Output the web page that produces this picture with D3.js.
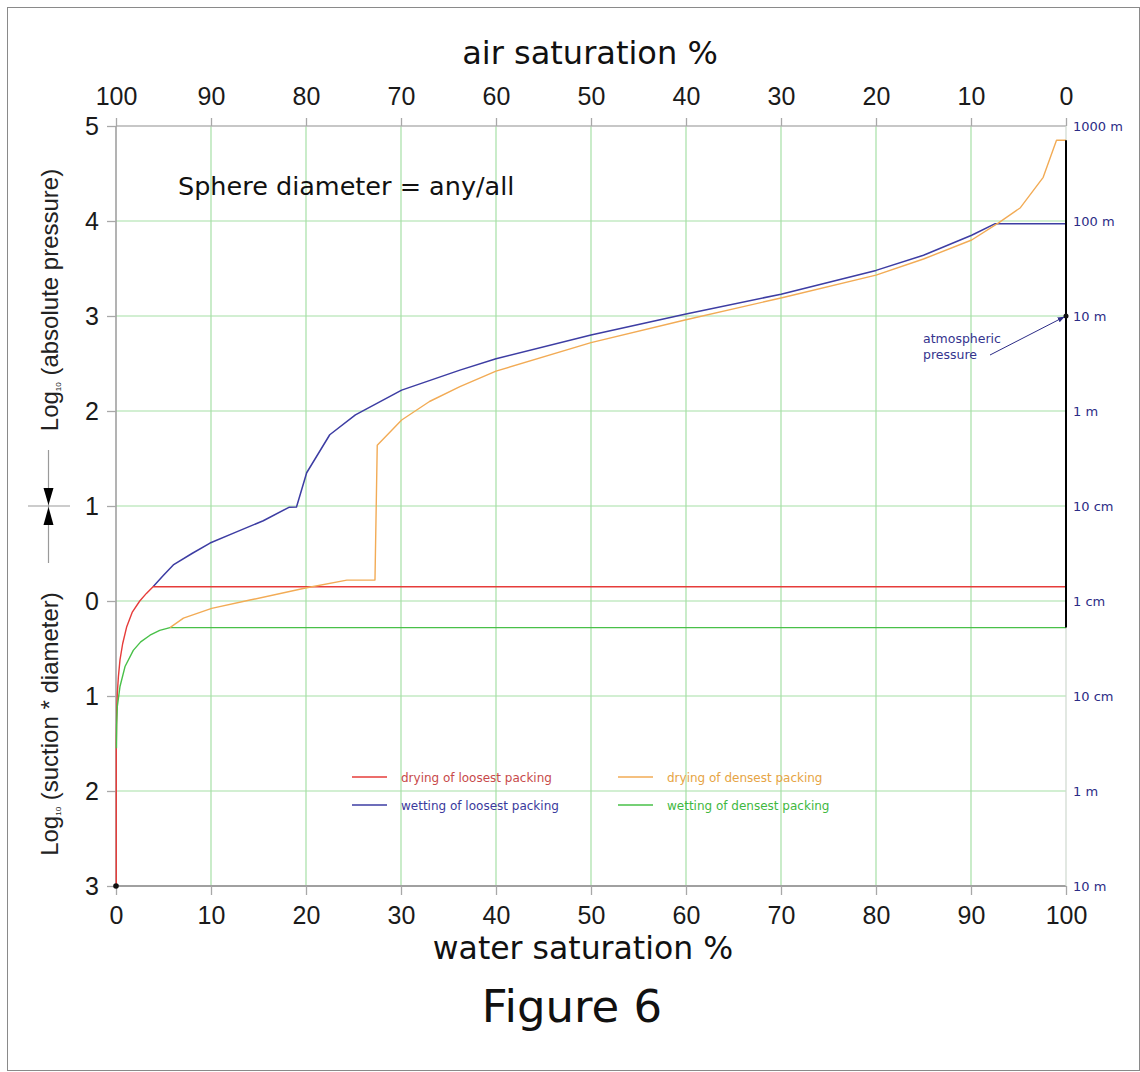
<!DOCTYPE html>
<html><head><meta charset="utf-8">
<script src="https://cdn.jsdelivr.net/npm/d3@7"></script>
<style>body{margin:0;background:#fff}svg{display:block}</style>
</head><body>
<script>
// ---- data ----
const xTicks = [0,10,20,30,40,50,60,70,80,90,100];
const topTickLabels = [100,90,80,70,60,50,40,30,20,10,0];
const yTicks = [5,4,3,2,1,0,-1,-2,-3];
const rightLabels = ["1000 m","100 m","10 m","1 m","10 cm","1 cm","10 cm","1 m","10 m"];

const dryLooseX = [0.03,0.03,0.08,0.14,0.25,0.42,0.7,1.13,1.7,2.5,3.2,3.9,100];
const dryLooseY = [-3,-1.5,-1.15,-0.97,-0.8,-0.62,-0.45,-0.27,-0.12,0,0.08,0.15,0.15];

const wetLooseX = [3.9,5,6.03,8,9.9,12.5,15.5,18.2,19.0,20.07,22.5,25.2,30.07,36.2,40,50,60,70,80,85,90.07,92.5,100];
const wetLooseY = [0.15,0.27,0.38,0.5,0.61,0.72,0.845,0.986,0.99,1.35,1.75,1.96,2.22,2.43,2.55,2.8,3.02,3.23,3.48,3.64,3.85,3.97,3.97];

const dryDenseX = [5.68,7.1,10.07,14.1,20.07,24.3,27.26,27.5,30.07,33,36.2,40,50,60,70,80,85,90.07,92.9,95.2,97.6,99.0,100];
const dryDenseY = [-0.28,-0.18,-0.077,0.01,0.14,0.22,0.22,1.64,1.905,2.1,2.256,2.42,2.72,2.96,3.19,3.43,3.6,3.8,3.98,4.14,4.46,4.85,4.85];

const wetDenseX = [0.05,0.07,0.14,0.42,0.95,1.82,2.6,3.58,4.6,5.68,100];
const wetDenseY = [-1.55,-1.3,-1.11,-0.9,-0.69,-0.52,-0.43,-0.36,-0.31,-0.28,-0.28];

const saturatedX = [100,100];
const saturatedY = [4.85,-0.28];
const atmosphere = {x:100, y:3};
const originPoint = {x:0, y:-3};

const seriesNames = ["drying of loosest packing","wetting of loosest packing","drying of densest packing","wetting of densest packing"];
const seriesColors = ["#e63c3a","#3d3da3","#f2ab55","#48c048"];
const legendTextColors = ["#c84a4a","#3a3a9c","#e6a444","#3fb83f"];

// ---- chart ----
const W=1140,H=1072;
const svg=d3.select("body").append("svg").attr("width",W).attr("height",H);
svg.append("rect").attr("x",7.5).attr("y",7.5).attr("width",1132).attr("height",1063)
  .attr("fill","none").attr("stroke","#8a8a8a").attr("stroke-width",1);

const x=d3.scaleLinear().domain([0,100]).range([116,1066]);
const xTop=d3.scaleLinear().domain([100,0]).range([116,1066]);
const y=d3.scaleLinear().domain([-3,5]).range([886,126]);

const grid="#a6dfa6";
const g=svg.append("g");
// grid
g.selectAll("line.vg").data(xTicks.filter(d=>d>0&&d<100)).join("line")
  .attr("x1",d=>x(d)).attr("x2",d=>x(d)).attr("y1",y(5)).attr("y2",y(-3))
  .attr("stroke",grid).attr("stroke-width",1.2);
g.selectAll("line.hg").data(yTicks.filter(d=>d<5&&d>-3)).join("line")
  .attr("x1",x(0)).attr("x2",x(100)).attr("y1",d=>y(d)).attr("y2",d=>y(d))
  .attr("stroke",grid).attr("stroke-width",1.2);
// frame lines
g.append("line").attr("x1",x(0)).attr("x2",x(100)).attr("y1",y(5)).attr("y2",y(5)).attr("stroke","#b4b4b4").attr("stroke-width",1.5);
g.append("line").attr("x1",x(0)).attr("x2",x(100)).attr("y1",y(-3)).attr("y2",y(-3)).attr("stroke","#a0a0a0").attr("stroke-width",2);
g.append("line").attr("x1",x(0)).attr("x2",x(0)).attr("y1",y(5)).attr("y2",y(-3)).attr("stroke","#9a9a9a").attr("stroke-width",1.5);
g.append("line").attr("x1",x(100)).attr("x2",x(100)).attr("y1",y(5)).attr("y2",y(-3)).attr("stroke","#cfd8cf").attr("stroke-width",1.2);

const tickFont="'Liberation Sans', Arial, sans-serif";
function styleAxis(sel,fs,color,ff){
  sel.select(".domain").remove();
  sel.selectAll(".tick line").attr("stroke","#a8a8a8").attr("stroke-width",1.3);
  sel.selectAll(".tick text").attr("font-size",fs).attr("fill",color).attr("font-family",ff);
}
svg.append("g").attr("transform",`translate(0,${y(-3)})`)
  .call(d3.axisBottom(x).tickValues(xTicks).tickSize(9).tickPadding(11))
  .call(s=>styleAxis(s,25,"#1a1a1a",tickFont));
svg.append("g").attr("transform",`translate(0,${y(5)})`)
  .call(d3.axisTop(xTop).tickValues(topTickLabels).tickSize(8).tickPadding(13))
  .call(s=>styleAxis(s,25,"#1a1a1a",tickFont));
svg.append("g").attr("transform",`translate(${x(0)},0)`)
  .call(d3.axisLeft(y).tickValues(yTicks).tickFormat(d=>Math.abs(d)).tickSize(9).tickPadding(8))
  .call(s=>styleAxis(s,25,"#1a1a1a",tickFont));
svg.append("g").attr("transform",`translate(${x(100)},0)`)
  .call(d3.axisRight(y).tickValues(yTicks).tickFormat((d,i)=>rightLabels[i]).tickSize(0).tickPadding(7))
  .call(s=>styleAxis(s,13,"#2c2c86","'DejaVu Sans', Verdana, sans-serif"));

// curves
const line=d3.line().x(d=>x(d[0])).y(d=>y(d[1]));
const zip=(a,b)=>a.map((v,i)=>[v,b[i]]);
const curves=[
  {xs:wetLooseX,ys:wetLooseY,c:seriesColors[1],w:1.5},
  {xs:dryLooseX,ys:dryLooseY,c:seriesColors[0],w:1.4},
  {xs:wetDenseX,ys:wetDenseY,c:seriesColors[3],w:1.4},
  {xs:dryDenseX,ys:dryDenseY,c:seriesColors[2],w:1.4}
];
curves.forEach(cv=>{
  svg.append("path").attr("d",line(zip(cv.xs,cv.ys))).attr("fill","none")
    .attr("stroke",cv.c).attr("stroke-width",cv.w).attr("stroke-linejoin","round");
});
svg.append("path").attr("d",line(zip(saturatedX,saturatedY))).attr("stroke","#000").attr("stroke-width",2).attr("fill","none");

// points
svg.append("circle").attr("cx",x(originPoint.x)).attr("cy",y(originPoint.y)).attr("r",2.8).attr("fill","#111");
svg.append("circle").attr("cx",x(atmosphere.x)).attr("cy",y(atmosphere.y)).attr("r",2.5).attr("fill","#111");

// atmospheric annotation
svg.append("defs").append("marker").attr("id","ah").attr("viewBox","0 0 10 10").attr("refX",9).attr("refY",5)
  .attr("markerWidth",7).attr("markerHeight",7).attr("orient","auto")
  .append("path").attr("d","M0,1 L10,5 L0,9 z").attr("fill","#2c2c86");
svg.append("line").attr("x1",990).attr("y1",355).attr("x2",x(100)-2).attr("y2",y(3)+1)
  .attr("stroke","#2c2c86").attr("stroke-width",1).attr("marker-end","url(#ah)");
const ann=svg.append("text").attr("font-family","'DejaVu Sans', Verdana, sans-serif").attr("font-size",12.5).attr("fill","#34348e");
ann.append("tspan").attr("x",923).attr("y",343).text("atmospheric");
ann.append("tspan").attr("x",923).attr("y",359).text("pressure");

// legend
const legPos=[[352,777],[352,805],[618,777],[618,805]];
seriesNames.forEach((n,i)=>{
  const [lx,ly]=legPos[i];
  svg.append("line").attr("x1",lx).attr("x2",lx+35).attr("y1",ly).attr("y2",ly)
    .attr("stroke",seriesColors[i]).attr("stroke-width",1.5);
  svg.append("text").attr("x",lx+49).attr("y",ly+4.5).attr("font-family","'DejaVu Sans', Verdana, sans-serif")
    .attr("font-size",12).attr("fill",legendTextColors[i]).text(n);
});

// texts
const sans="'DejaVu Sans', Verdana, sans-serif";
svg.append("text").attr("x",178).attr("y",195).attr("font-family",sans).attr("font-size",25.5).attr("fill","#111").text("Sphere diameter = any/all");
svg.append("text").attr("x",590).attr("y",64).attr("text-anchor","middle").attr("font-family",sans).attr("font-size",32).attr("fill","#111").text("air saturation %");
svg.append("text").attr("x",583).attr("y",959).attr("text-anchor","middle").attr("font-family",sans).attr("font-size",31.5).attr("fill","#111").text("water saturation %");
svg.append("text").attr("x",572).attr("y",1022).attr("text-anchor","middle").attr("font-family",sans).attr("font-size",45).attr("fill","#111").text("Figure 6");

function yTitle(cy,rest){
  const t=svg.append("text").attr("transform",`translate(58,${cy}) rotate(-90)`).attr("text-anchor","middle")
    .attr("font-family",tickFont).attr("font-size",24).attr("fill","#222");
  t.append("tspan").text("Log");
  t.append("tspan").attr("font-size",8).attr("dy",3).text("10");
  t.append("tspan").attr("dy",-3).text(" "+rest);
}
yTitle(300,"(absolute pressure)");
yTitle(724,"(suction * diameter)");

// boundary marker
const mk=svg.append("g");
mk.append("line").attr("x1",48.5).attr("x2",48.5).attr("y1",450).attr("y2",563).attr("stroke","#9a9a9a").attr("stroke-width",1.2);
mk.append("line").attr("x1",28).attr("x2",70).attr("y1",y(1)).attr("y2",y(1)).attr("stroke","#9a9a9a").attr("stroke-width",1.2);
mk.append("path").attr("d",`M43.5,488 L53.5,488 L48.5,${y(1)-1} Z`).attr("fill","#000");
mk.append("path").attr("d",`M43.5,525 L53.5,525 L48.5,${y(1)+1} Z`).attr("fill","#000");
</script>
</body></html>
